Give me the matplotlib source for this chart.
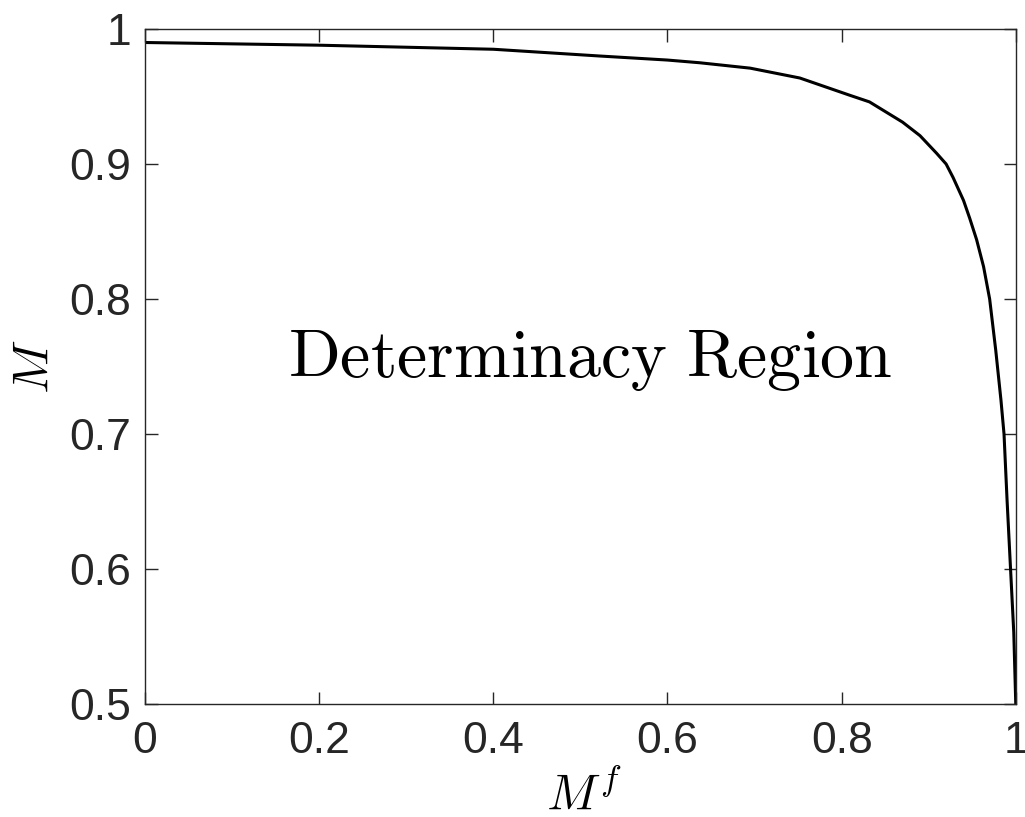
import matplotlib
matplotlib.use("Agg")
import matplotlib.pyplot as plt

# boundary curve
mf = [0.0, 0.2, 0.4, 0.522, 0.6, 0.637, 0.695, 0.752, 0.809, 0.832, 0.870,
      0.890, 0.909, 0.920, 0.928, 0.940, 0.947, 0.955, 0.963, 0.970,
      0.977, 0.983, 0.9865, 0.990, 0.994, 0.9977, 1.0]
m = [0.990, 0.988, 0.985, 0.980, 0.977, 0.975, 0.971, 0.9637, 0.951, 0.946,
     0.931, 0.921, 0.908, 0.900, 0.890, 0.873, 0.860, 0.844, 0.824, 0.800,
     0.762, 0.725, 0.700, 0.651, 0.600, 0.553, 0.500]

xticks = [0, 0.2, 0.4, 0.6, 0.8, 1]
xticklabels = ["0", "0.2", "0.4", "0.6", "0.8", "1"]
yticks = [0.5, 0.6, 0.7, 0.8, 0.9, 1]
yticklabels = ["0.5", "0.6", "0.7", "0.8", "0.9", "1"]

plt.rcParams["mathtext.fontset"] = "cm"
plt.rcParams["font.family"] = ["Liberation Sans", "DejaVu Sans"]

fig = plt.figure(figsize=(10.25, 8.17), dpi=100)
ax = fig.add_axes([0.1415, 0.1383, 0.8495, 0.8262])

ax.plot(mf, m, color="black", lw=2.2)

ax.set_xlim(0, 1)
ax.set_ylim(0.5, 1)
ax.set_xticks(xticks)
ax.set_xticklabels(xticklabels)
ax.set_yticks(yticks)
ax.set_yticklabels(yticklabels)

axis_col = "#262626"
for s in ax.spines.values():
    s.set_color(axis_col)
    s.set_linewidth(1.0)
ax.tick_params(direction="in", length=9, width=1.0, colors=axis_col,
               labelsize=32, top=True, right=True)
ax.tick_params(axis="y", pad=10)
ax.tick_params(axis="x", pad=12)
for lbl in ax.get_xticklabels() + ax.get_yticklabels():
    lbl.set_color(axis_col)

ax.set_xlabel(r"$M^f$", fontsize=36)
ax.xaxis.label.set_va("baseline")
ax.xaxis.set_label_coords(0.504, -0.155)
ax.set_ylabel(r"$M$", fontsize=36)
ax.yaxis.label.set_va("center")
ax.yaxis.set_label_coords(-0.127, 0.499)

ax.text(0.511, 0.742, r"$\mathrm{Determinacy\ Region}$", fontsize=49,
        ha="center", va="baseline", color="black")

fig.savefig("out.png", dpi=100)
